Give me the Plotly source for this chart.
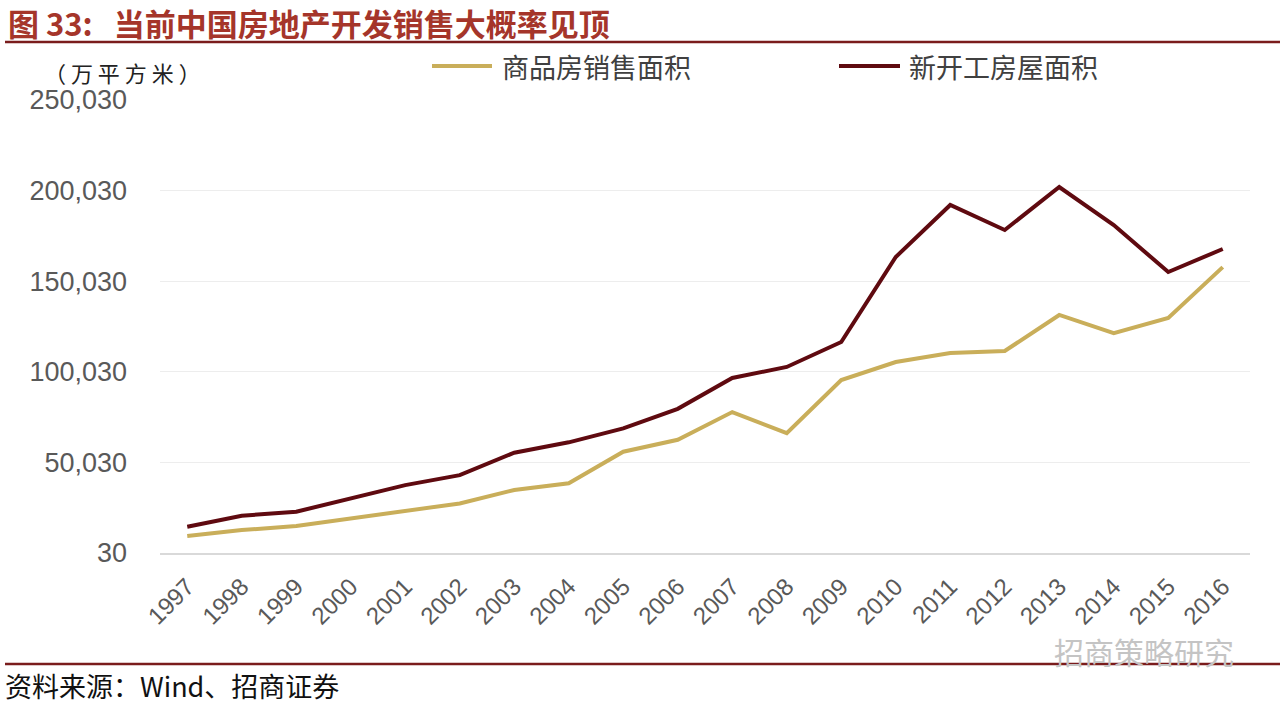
import plotly.graph_objects as go

years = [str(y) for y in range(1997, 2017)]
sales_area = [9400, 12700, 14900, 19100, 23200, 27400, 34800, 38500, 55900, 62500,
              77800, 66200, 95500, 105400, 110400, 111500, 131400, 121400, 129700, 157800]
new_start_area = [14500, 20600, 22800, 30200, 37500, 43000, 55400, 61100, 68800, 79600,
                  96600, 102700, 116500, 163400, 192100, 178300, 202000, 181000, 155100, 167800]
y_ticks = [30, 50030, 100030, 150030, 200030, 250030]
series_names = ["商品房销售面积", "新开工房屋面积"]

GOLD = "#C9AE5A"
DARKRED = "#5F0A10"
TITLE_RED = "#A5352A"
RULE = "#7A1C1C"
CJK = "Noto Sans CJK SC, Arial, sans-serif"

W, H = 1280, 706
L, R, T, B = 160, 1250, 100, 553


def px(x):
    return (x - L) / (R - L)


def py(y):
    return (B - y) / (B - T)


fig = go.Figure()
fig.add_trace(go.Scatter(x=years, y=sales_area, mode="lines", name=series_names[0],
                         line=dict(color=GOLD, width=4), showlegend=False))
fig.add_trace(go.Scatter(x=years, y=new_start_area, mode="lines", name=series_names[1],
                         line=dict(color=DARKRED, width=4), showlegend=False))

fig.update_layout(
    width=W, height=H,
    margin=dict(l=L, r=W - R, t=T, b=H - B, autoexpand=False),
    paper_bgcolor="white", plot_bgcolor="white",
    font=dict(family="Arial, Liberation Sans, sans-serif", color="#595959"),
    xaxis=dict(type="category", range=[-0.5, 19.5], tickangle=-45,
               tickfont=dict(size=24, color="#595959", family="Arial, Liberation Sans"),
               showgrid=False, showline=True, linecolor="#D9D9D9", linewidth=2,
               ticks="", ticklabelstandoff=8, fixedrange=True),
    yaxis=dict(range=[30, 250030], tickvals=y_ticks,
               ticktext=[f"{v:,}" for v in y_ticks],
               tickfont=dict(size=27, color="#595959", family="Arial, Liberation Sans"),
               showgrid=True, gridcolor="#EDEDED", gridwidth=1, zeroline=False,
               showline=False, ticks="", ticklabelstandoff=32, fixedrange=True),
)

shapes = [
    dict(type="line", xref="paper", yref="paper", x0=px(5), x1=px(1280), y0=py(42), y1=py(42),
         line=dict(color=RULE, width=2.5)),
    dict(type="line", xref="paper", yref="paper", x0=px(5), x1=px(1280), y0=py(664), y1=py(664),
         line=dict(color=RULE, width=2.5)),
    dict(type="line", xref="paper", yref="paper", x0=px(432), x1=px(492), y0=py(66), y1=py(66),
         line=dict(color=GOLD, width=4)),
    dict(type="line", xref="paper", yref="paper", x0=px(839), x1=px(900), y0=py(66), y1=py(66),
         line=dict(color=DARKRED, width=4)),
]
fig.update_layout(shapes=shapes)

ann = [
    dict(text="<b>图 33:   当前中国房地产开发销售大概率见顶</b>", x=px(6), y=py(22),
         font=dict(size=31, color=TITLE_RED, family=CJK)),
    dict(text="（ 万 平 方 米 ）", x=px(42), y=py(72), font=dict(size=22, color="#222222", family=CJK)),
    dict(text=series_names[0], x=px(500), y=py(66), font=dict(size=27, color="#404040", family=CJK)),
    dict(text=series_names[1], x=px(907), y=py(66), font=dict(size=27, color="#404040", family=CJK)),
    dict(text="资料来源：Wind、招商证券", x=px(3), y=py(685), font=dict(size=27, color="#111111", family=CJK)),
    dict(text="招商策略研究", x=px(1052), y=py(651), font=dict(size=30, color="#C4C4C4", family=CJK)),
]
for a in ann:
    a.update(xref="paper", yref="paper", xanchor="left", yanchor="middle", showarrow=False)
fig.update_layout(annotations=ann)

fig.write_html("out.html", config={"displayModeBar": False},
               post_script="document.body.style.margin='0';document.body.style.overflow='hidden';")
